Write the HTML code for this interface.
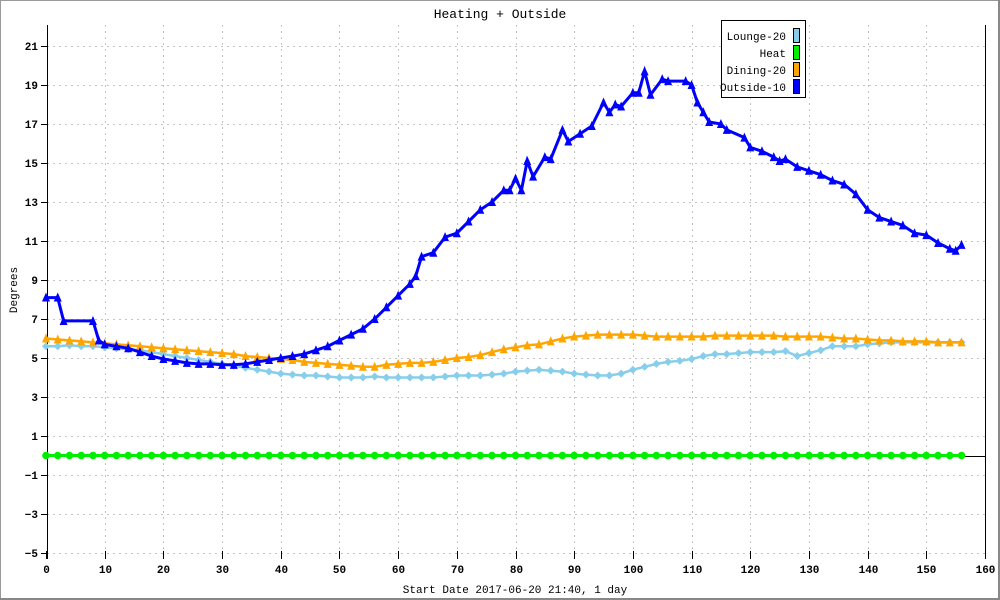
<!DOCTYPE html>
<html><head><meta charset="utf-8"><style>
html,body{margin:0;padding:0;background:#fff}
svg{display:block}
text{font-family:"Liberation Mono",monospace;font-size:11px;fill:#000}
</style></head><body>
<svg id="chart" width="1000" height="600" viewBox="0 0 1000 600" xmlns="http://www.w3.org/2000/svg">
<rect x="0.5" y="0.5" width="998" height="598" fill="#fff" stroke="#999"/>
<line x1="0" y1="599" x2="1000" y2="599" stroke="#888" stroke-width="2"/>
<line x1="999" y1="0" x2="999" y2="600" stroke="#888" stroke-width="2"/>
<text x="500" y="18" text-anchor="middle" style="font-size:13px">Heating + Outside</text>
<text x="515" y="593" text-anchor="middle">Start Date 2017-06-20 21:40, 1 day</text>
<text x="17" y="290" text-anchor="middle" transform="rotate(-90 17 290)">Degrees</text>
<g id="grid" shape-rendering="crispEdges"></g><g id="axes" shape-rendering="crispEdges"></g><g id="series"></g>
<g>
<rect x="721.5" y="20.5" width="84" height="77" fill="#fff" stroke="#000"/>
<text x="786" y="40" text-anchor="end">Lounge-20</text>
<rect x="793.5" y="28.5" width="6" height="14" fill="#87ceeb" stroke="#000"/>
<text x="786" y="57" text-anchor="end">Heat</text>
<rect x="793.5" y="45.5" width="6" height="14" fill="#00ee00" stroke="#000"/>
<text x="786" y="74" text-anchor="end">Dining-20</text>
<rect x="793.5" y="62.5" width="6" height="14" fill="#ffa500" stroke="#000"/>
<text x="786" y="91" text-anchor="end">Outside-10</text>
<rect x="793.5" y="79.5" width="6" height="14" fill="#0000ff" stroke="#000"/>
</g>
</svg>
<script>
const xTicks=[0,10,20,30,40,50,60,70,80,90,100,110,120,130,140,150,160];
const yTicks=[-5,-3,-1,1,3,5,7,9,11,13,15,17,19,21];
const xs2=[0,2,4,6,8,10,12,14,16,18,20,22,24,26,28,30,32,34,36,38,40,42,44,46,48,50,52,54,56,58,60,62,64,66,68,70,72,74,76,78,80,82,84,86,88,90,92,94,96,98,100,102,104,106,108,110,112,114,116,118,120,122,124,126,128,130,132,134,136,138,140,142,144,146,148,150,152,154,156];
const lounge=[5.6,5.6,5.65,5.6,5.6,5.55,5.5,5.45,5.4,5.3,5.2,5.1,5.0,4.9,4.8,4.7,4.6,4.5,4.4,4.3,4.2,4.15,4.1,4.1,4.05,4.0,4.0,4.0,4.05,4.0,4.0,4.0,4.0,4.0,4.05,4.1,4.1,4.1,4.15,4.2,4.3,4.35,4.4,4.35,4.3,4.2,4.15,4.1,4.1,4.2,4.4,4.55,4.7,4.8,4.85,4.95,5.1,5.2,5.2,5.25,5.3,5.3,5.3,5.35,5.1,5.25,5.4,5.6,5.6,5.6,5.7,5.75,5.8,5.8,5.8,5.8,5.8,5.8,5.8];
const dining=[6.0,5.95,5.9,5.85,5.8,5.75,5.7,5.65,5.6,5.55,5.5,5.45,5.4,5.35,5.3,5.25,5.2,5.1,5.05,5.0,4.95,4.9,4.8,4.75,4.7,4.65,4.6,4.55,4.55,4.65,4.7,4.75,4.75,4.8,4.9,5.0,5.05,5.15,5.3,5.45,5.55,5.65,5.7,5.85,6.0,6.1,6.15,6.2,6.2,6.2,6.2,6.15,6.1,6.1,6.1,6.1,6.1,6.15,6.15,6.15,6.15,6.15,6.15,6.1,6.1,6.1,6.1,6.05,6.0,6.0,5.95,5.9,5.9,5.85,5.85,5.85,5.8,5.8,5.8];
const heat=[0,0,0,0,0,0,0,0,0,0,0,0,0,0,0,0,0,0,0,0,0,0,0,0,0,0,0,0,0,0,0,0,0,0,0,0,0,0,0,0,0,0,0,0,0,0,0,0,0,0,0,0,0,0,0,0,0,0,0,0,0,0,0,0,0,0,0,0,0,0,0,0,0,0,0,0,0,0,0];
const xsOut=[0,2,3,8,9,10,12,14,16,18,20,22,24,26,28,30,32,34,36,38,40,42,44,46,48,50,52,54,56,58,60,62,63,64,66,68,70,72,74,76,78,79,80,81,82,83,85,86,88,89,91,93,95,96,97,98,100,101,102,103,105,106,109,110,111,112,113,115,116,119,120,122,124,125,126,128,130,132,134,136,138,140,142,144,146,148,150,152,154,155,156];
const outside=[8.1,8.1,6.9,6.9,5.9,5.7,5.6,5.5,5.3,5.1,4.95,4.85,4.75,4.7,4.7,4.65,4.65,4.7,4.8,4.9,5.0,5.1,5.2,5.4,5.6,5.9,6.2,6.5,7.0,7.6,8.2,8.8,9.2,10.2,10.4,11.2,11.4,12.0,12.6,13.0,13.6,13.6,14.2,13.6,15.1,14.3,15.3,15.2,16.7,16.1,16.5,16.9,18.1,17.6,18.0,17.9,18.6,18.6,19.7,18.5,19.3,19.2,19.2,19.0,18.1,17.6,17.1,17.0,16.7,16.3,15.8,15.6,15.3,15.1,15.2,14.8,14.6,14.4,14.1,13.9,13.4,12.6,12.2,12.0,11.8,11.4,11.3,10.9,10.6,10.5,10.8];
const NS="http://www.w3.org/2000/svg";
function X(v){return 46+v*(939/160);}
function Y(v){return 46+(21-v)*19.5;}
function mk(tag,attrs,parent){const e=document.createElementNS(NS,tag);for(const k in attrs)e.setAttribute(k,attrs[k]);parent.appendChild(e);return e;}
const grid=document.getElementById('grid'),axes=document.getElementById('axes'),ser=document.getElementById('series');
yTicks.forEach(t=>{const y=Math.round(Y(t))+0.5;
 const g=mk('line',{x1:47,y1:y,x2:985,y2:y,stroke:'#c4c4c4','stroke-dasharray':'2,4'},grid);
 
 
 const tk=mk('line',{x1:41,y1:y,x2:47,y2:y,stroke:'#000'},axes);
 
 
 const tx=mk('text',{x:38,y:Y(t)+4,'text-anchor':'end','font-weight':'bold'},axes);tx.textContent=String(t).replace('-','\u2212');
 
 });
xTicks.forEach(t=>{const x=Math.round(X(t))+0.5;
 if(t>0&&t<160){const g=mk('line',{x1:x,y1:25,x2:x,y2:554,stroke:'#c4c4c4','stroke-dasharray':'2,4'},grid);
 
 }
 const tk=mk('line',{x1:x,y1:551,x2:x,y2:559,stroke:'#000'},axes);
 
 
 const tx=mk('text',{x:x,y:573,'text-anchor':'middle','font-weight':'bold'},axes);tx.textContent=t;
 
 });
const la=mk('line',{x1:47.5,y1:25,x2:47.5,y2:559,stroke:'#000'},axes);


const ra=mk('line',{x1:985.5,y1:25,x2:985.5,y2:559,stroke:'#000'},axes);


const zl=mk('line',{x1:47,y1:Math.round(Y(0))+0.5,x2:985,y2:Math.round(Y(0))+0.5,stroke:'#000'},axes);


function tri(x,y,s){return `M${x-s},${y+s}L${x},${y-s-1}L${x+s},${y+s}Z`;}
function drawSeries(name,xsArr,vals,color,w,marker){
 const g=mk('g',{},ser);
 
 
 const pts=vals.map((v,i)=>X(xsArr[i]).toFixed(1)+','+Y(v).toFixed(1)).join(' ');
 const pl=mk('polyline',{points:pts,fill:'none',stroke:color,'stroke-width':w},g);
 
 
 vals.forEach((v,i)=>{const x=X(xsArr[i]),y=Y(v);let m;
  if(marker==='tri')m=mk('path',{d:tri(x,y,4),fill:color},g);
  else if(marker==='circle')m=mk('circle',{cx:x,cy:y,r:3.8,fill:color},g);
  else m=mk('path',{d:`M${x-4},${y}L${x},${y-4}L${x+4},${y}L${x},${y+4}Z`,fill:color},g);
  
  });
}
drawSeries('heat',xs2,heat,'#00ee00',3,'circle');
drawSeries('lounge',xs2,lounge,'#87ceeb',2.5,'diamond');
drawSeries('dining',xs2,dining,'#ffa500',2.5,'tri');
drawSeries('outside',xsOut,outside,'#0000ff',3,'tri');
</script>
</body></html>
